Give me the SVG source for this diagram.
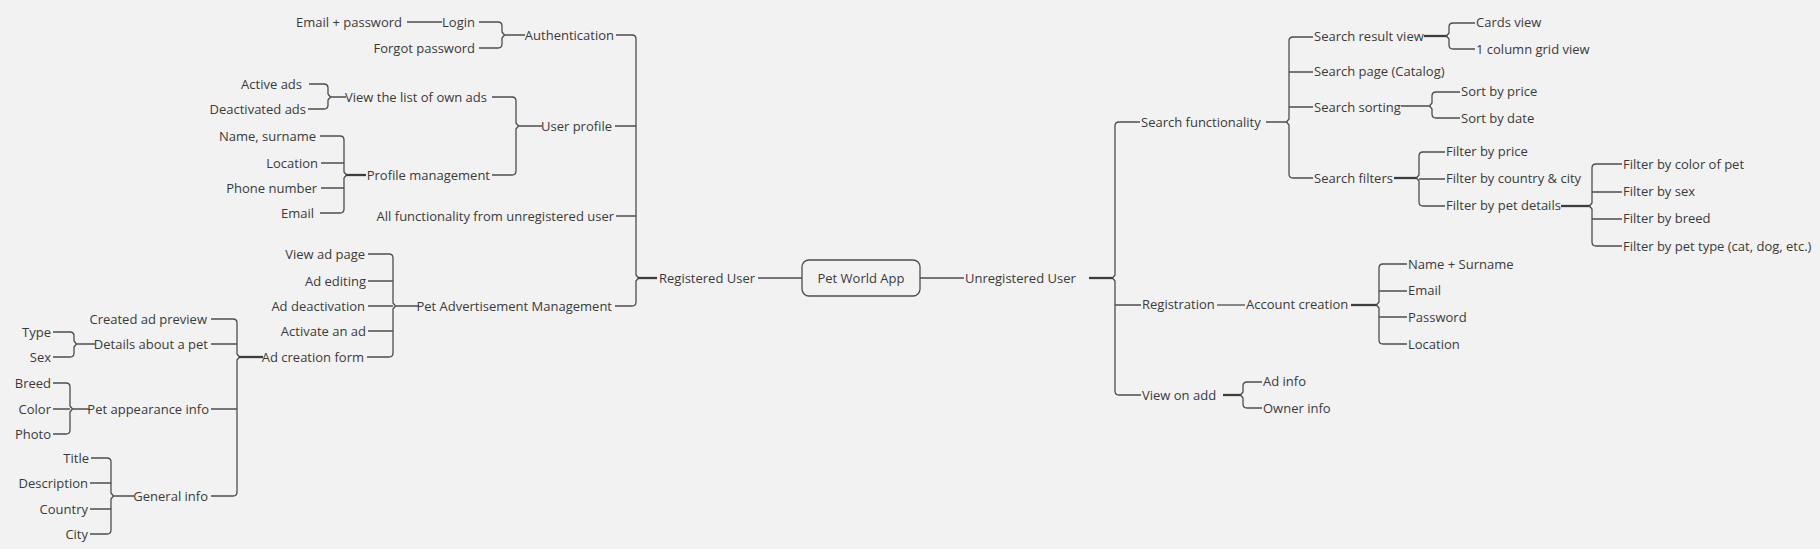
<svg xmlns="http://www.w3.org/2000/svg" width="1820" height="549" viewBox="0 0 1820 549">
<style>
text{font-family:"Open Sans","Liberation Sans",sans-serif;font-size:13px;fill:#3a3a3a}
.e{text-anchor:end}
.s{text-anchor:start}
.m{text-anchor:middle}
.c path{fill:none;stroke:#4d4d4d;stroke-width:1.3;stroke-linejoin:round}
.c path.th{stroke-width:2.3;stroke:#3d3d3d}
</style>
<rect width="1820" height="549" fill="#f2f2f2"/>
<g id="connectors" class="c">
<path d="M616 35H632Q636 35 636 39V275L638.5 278L636 281V302Q636 306 632 306H615M615 126H636M616 216H636"/>
<path class="th" d="M638 278H657"/>
<path d="M479 22H498Q502 22 502 26V32L504.5 35L502 38V44Q502 48 498 48H479M504 35H525M407 22H442"/>
<path d="M309 84H324Q328 84 328 88V94L330.5 97L328 100V105Q328 109 324 109H308M330 97H346"/>
<path d="M492 97H512Q516 97 516 101V123L518.5 126L516 129V171Q516 175 512 175H492M518 126H542"/>
<path d="M320 136H340Q344 136 344 140V172L346.5 175L344 178V209Q344 213 340 213H320M321 163H344M321 188H344"/>
<path class="th" d="M346 175H366"/>
<path d="M368 254H389Q393 254 393 258V303L395.5 306L393 309V353Q393 357 389 357H367M368 281H393M368 306H393M395 306H419M368 331H393"/>
<path d="M211 319H233Q237 319 237 323V354L239.5 357L237 360V492Q237 496 233 496H211M211 344H237M211 409H237"/>
<path class="th" d="M239 357H263"/>
<path d="M53 332H70Q74 332 74 336V341L76.5 344L74 347V353Q74 357 70 357H53M76 344H95"/>
<path d="M53 383H66Q70 383 70 387V406L72.5 409L70 412V430Q70 434 66 434H53M53 409H70M72 409H89"/>
<path d="M91 458H107Q111 458 111 462V493L113.5 496L111 499V530Q111 534 107 534H90M90 483H111M90 509H111M113 496H134"/>
<path d="M758 278H802M920 278H964"/>
<path class="th" d="M1089 278H1113"/>
<path d="M1140 122H1119Q1115 122 1115 126V275L1112.5 278L1115 281V391Q1115 395 1119 395H1141M1115 305H1141"/>
<path d="M1266 122H1287M1313 37H1293Q1289 37 1289 41V119L1286.5 122L1289 125V174Q1289 178 1293 178H1313M1289 72H1313M1289 107H1313"/>
<path class="th" d="M1424 36H1447"/>
<path d="M1475 23H1453Q1449 23 1449 27V33L1446.5 36L1449 39V45Q1449 49 1453 49H1475"/>
<path d="M1401 106H1430M1460 92H1436Q1432 92 1432 96V103L1429.5 106L1432 109V114Q1432 118 1436 118H1460"/>
<path class="th" d="M1394 178H1417"/>
<path d="M1445 152H1423Q1419 152 1419 156V175L1416.5 178L1419 181V202Q1419 206 1423 206H1445M1419 179H1445"/>
<path class="th" d="M1561 206H1590"/>
<path d="M1622 164H1596Q1592 164 1592 168V203L1589.5 206L1592 209V242Q1592 246 1596 246H1622M1592 192H1622M1592 219H1622"/>
<path d="M1217 305H1245"/>
<path class="th" d="M1351 305H1377"/>
<path d="M1407 264H1383Q1379 264 1379 268V302L1376.5 305L1379 308V340Q1379 344 1383 344H1407M1379 291H1407M1379 317H1407"/>
<path class="th" d="M1223 395H1241"/>
<path d="M1262 382H1247Q1243 382 1243 386V392L1240.5 395L1243 398V404Q1243 408 1247 408H1262"/>
</g>
<g id="n-root"><rect x="802" y="260" width="118" height="36" rx="7" fill="none" stroke="#4d4d4d" stroke-width="1.3"/><text class="m" x="861" y="282.5">Pet World App</text></g>
<g id="n-registered"><text class="s" x="659" y="282.5">Registered User</text></g>
<g id="n-unregistered"><text class="s" x="965" y="282.5">Unregistered User</text></g>
<g id="n-auth"><text class="e" x="614" y="39.5">Authentication</text></g>
<g id="n-login"><text class="e" x="475" y="26.5">Login</text></g>
<g id="n-emailpw"><text class="e" x="402" y="26.5">Email + password</text></g>
<g id="n-forgot"><text class="e" x="475" y="52.5">Forgot password</text></g>
<g id="n-userprofile"><text class="e" x="612" y="130.5">User profile</text></g>
<g id="n-viewlist"><text class="e" x="487" y="101.5">View the list of own ads</text></g>
<g id="n-activeads"><text class="e" x="302" y="88.5">Active ads</text></g>
<g id="n-deactads"><text class="e" x="306" y="113.5">Deactivated ads</text></g>
<g id="n-profmgmt"><text class="e" x="490" y="179.5">Profile management</text></g>
<g id="n-namesurname"><text class="e" x="316" y="140.5">Name, surname</text></g>
<g id="n-location1"><text class="e" x="318" y="167.5">Location</text></g>
<g id="n-phone"><text class="e" x="317" y="192.5">Phone number</text></g>
<g id="n-email1"><text class="e" x="314" y="217.5">Email</text></g>
<g id="n-allfunc"><text class="e" x="614" y="220.5">All functionality from unregistered user</text></g>
<g id="n-petadmgmt"><text class="e" x="612" y="310.5">Pet Advertisement Management</text></g>
<g id="n-viewadpage"><text class="e" x="365" y="258.5">View ad page</text></g>
<g id="n-adediting"><text class="e" x="366" y="285.5">Ad editing</text></g>
<g id="n-addeact"><text class="e" x="365" y="310.5">Ad deactivation</text></g>
<g id="n-activatead"><text class="e" x="366" y="335.5">Activate an ad</text></g>
<g id="n-adcreation"><text class="e" x="364" y="361.5">Ad creation form</text></g>
<g id="n-preview"><text class="e" x="207" y="323.5">Created ad preview</text></g>
<g id="n-details"><text class="e" x="208" y="348.5">Details about a pet</text></g>
<g id="n-appearance"><text class="e" x="209" y="413.5">Pet appearance info</text></g>
<g id="n-general"><text class="e" x="208" y="500.5">General info</text></g>
<g id="n-type"><text class="e" x="51" y="336.5">Type</text></g>
<g id="n-sex"><text class="e" x="51" y="361.5">Sex</text></g>
<g id="n-breed"><text class="e" x="51" y="387.5">Breed</text></g>
<g id="n-color"><text class="e" x="51" y="413.5">Color</text></g>
<g id="n-photo"><text class="e" x="51" y="438.5">Photo</text></g>
<g id="n-title"><text class="e" x="89" y="462.5">Title</text></g>
<g id="n-description"><text class="e" x="88" y="487.5">Description</text></g>
<g id="n-country"><text class="e" x="88" y="513.5">Country</text></g>
<g id="n-city"><text class="e" x="88" y="538.5">City</text></g>
<g id="n-searchfunc"><text class="s" x="1141" y="126.5">Search functionality</text></g>
<g id="n-resultview"><text class="s" x="1314" y="41">Search result view</text></g>
<g id="n-cards"><text class="s" x="1476" y="27">Cards view</text></g>
<g id="n-grid"><text class="s" x="1476" y="53.5">1 column grid view</text></g>
<g id="n-searchpage"><text class="s" x="1314" y="76">Search page (Catalog)</text></g>
<g id="n-sorting"><text class="s" x="1314" y="111.5">Search sorting</text></g>
<g id="n-sortprice"><text class="s" x="1461" y="96">Sort by price</text></g>
<g id="n-sortdate"><text class="s" x="1461" y="122.5">Sort by date</text></g>
<g id="n-filters"><text class="s" x="1314" y="182.5">Search filters</text></g>
<g id="n-fprice"><text class="s" x="1446" y="156">Filter by price</text></g>
<g id="n-fcountry"><text class="s" x="1446" y="183">Filter by country &amp; city</text></g>
<g id="n-fpetdetails"><text class="s" x="1446" y="210">Filter by pet details</text></g>
<g id="n-fcolor"><text class="s" x="1623" y="168.5">Filter by color of pet</text></g>
<g id="n-fsex"><text class="s" x="1623" y="196">Filter by sex</text></g>
<g id="n-fbreed"><text class="s" x="1623" y="223">Filter by breed</text></g>
<g id="n-ftype"><text class="s" x="1623" y="250.5">Filter by pet type (cat, dog, etc.)</text></g>
<g id="n-registration"><text class="s" x="1142" y="309">Registration</text></g>
<g id="n-account"><text class="s" x="1246" y="309">Account creation</text></g>
<g id="n-namesurname2"><text class="s" x="1408" y="268.5">Name + Surname</text></g>
<g id="n-email2"><text class="s" x="1408" y="295">Email</text></g>
<g id="n-password"><text class="s" x="1408" y="321.5">Password</text></g>
<g id="n-location2"><text class="s" x="1408" y="348.5">Location</text></g>
<g id="n-viewonadd"><text class="s" x="1142" y="399.5">View on add</text></g>
<g id="n-adinfo"><text class="s" x="1263" y="386">Ad info</text></g>
<g id="n-ownerinfo"><text class="s" x="1263" y="412.5">Owner info</text></g>
</svg>
